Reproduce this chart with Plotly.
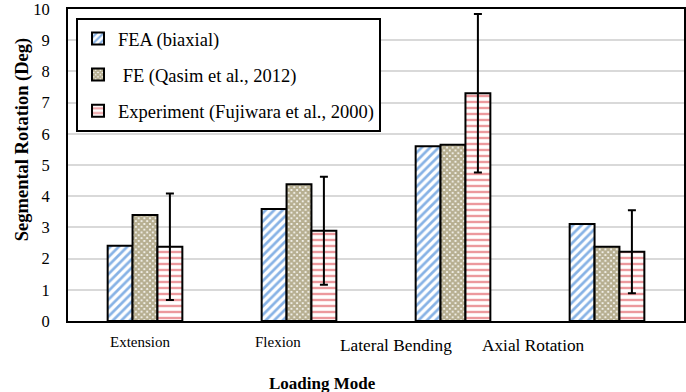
import plotly.graph_objects as go

categories = ["Extension", "Flexion", "Lateral Bending", "Axial Rotation"]
fea_biaxial = [2.41, 3.59, 5.60, 3.11]
fe_qasim = [3.40, 4.38, 5.65, 2.38]
experiment = [2.38, 2.89, 7.30, 2.22]
experiment_err = [1.71, 1.73, 2.54, 1.33]
y_ticks = [0, 1, 2, 3, 4, 5, 6, 7, 8, 9, 10]

FONT = "Liberation Serif"

fig = go.Figure()
fig.add_trace(go.Bar(
    name="FEA (biaxial)", x=categories, y=fea_biaxial, legendgroup="a",
    marker=dict(color="white", line=dict(color="black", width=2),
                pattern=dict(shape="/", fgcolor="#0F66CC", bgcolor="white", size=6, solidity=0.45)),
))
fig.add_trace(go.Bar(
    name=" FE (Qasim et al., 2012)", x=categories, y=fe_qasim, legendgroup="b",
    marker=dict(color="white", line=dict(color="black", width=2),
                pattern=dict(shape="x", fgcolor="#6E5E22", bgcolor="white", size=4, solidity=0.8)),
))
fig.add_trace(go.Bar(
    name="Experiment (Fujiwara et al., 2000)", x=categories, y=experiment, legendgroup="c",
    marker=dict(color="white", line=dict(color="black", width=2),
                pattern=dict(shape="-", fgcolor="#D9343B", bgcolor="white", size=6, solidity=0.4)),
    error_y=dict(type="data", array=experiment_err, visible=True, color="black", thickness=2, width=4),
))

# category labels (offset as in the reference)
label_shift = [-5, -21, -57, -74]
label_yshift = [-21, -21, -24, -24]
label_size = [15, 15, 17.3, 17.3]
for c, xs, ys, fs in zip(categories, label_shift, label_yshift, label_size):
    fig.add_annotation(x=c, xref="x", y=0, yref="paper", text=c, showarrow=False,
                       xshift=xs, yshift=ys, yanchor="middle",
                       font=dict(family=FONT, size=fs, color="black"))

fig.add_annotation(x=0.413, xref="paper", y=0, yref="paper", yshift=-62, yanchor="middle",
                   text="<b>Loading Mode</b>", showarrow=False,
                   font=dict(family=FONT, size=17, color="black"))
fig.add_annotation(x=0, xref="paper", xshift=-58, y=0.581, yref="paper",
                   text="<b>Segmental Rotation (Deg)</b>", textangle=-90, showarrow=False,
                   font=dict(family=FONT, size=18.5, color="black"))

fig.update_layout(
    width=686, height=392,
    margin=dict(l=68, r=0, t=6, b=71),
    paper_bgcolor="white", plot_bgcolor="white",
    barmode="group", bargap=0.515, bargroupgap=0,
    font=dict(family=FONT, size=16, color="black"),
    showlegend=True,
    legend=dict(x=0.013, y=0.971, xanchor="left", yanchor="top",
                bordercolor="black", borderwidth=2, bgcolor="white",
                font=dict(family=FONT, size=18.5, color="black"),
                tracegroupgap=9, itemwidth=30),
    xaxis=dict(showticklabels=False, showline=True, linecolor="black", linewidth=2,
               mirror=True, ticks="", showgrid=False),
    yaxis=dict(range=[0, 10], tickvals=y_ticks, showline=True, linecolor="black", linewidth=2,
               mirror=True, ticks="", showgrid=True, gridcolor="#D9D9D9", gridwidth=2,
               ticklabelstandoff=13, ticklabeloverflow="allow",
               tickfont=dict(family=FONT, size=16.5, color="black"),
               zeroline=False),
)

fig.write_html("out.html", config={"displayModeBar": False},
               post_script="document.body.style.margin='0';document.body.style.overflow='hidden';")
